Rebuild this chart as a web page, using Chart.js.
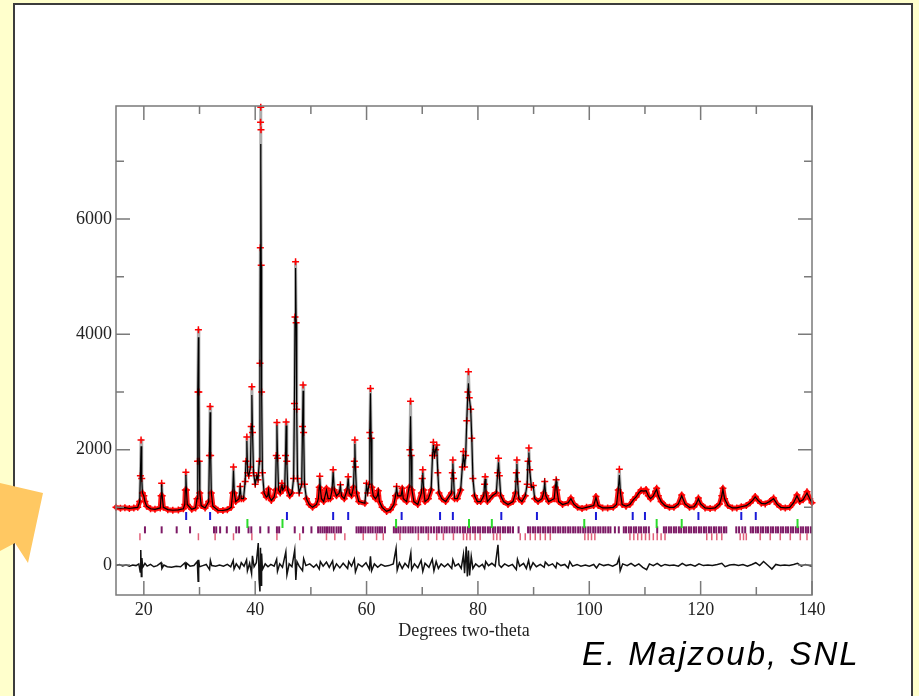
<!DOCTYPE html>
<html lang="en">
<head>
    <meta charset="UTF-8">
    <title>Rietveld refinement</title>
    <script src="https://cdn.jsdelivr.net/npm/chart.js"></script>
    <style>
        html, body { margin: 0; padding: 0; }
        body { width: 919px; height: 696px; background: #ffffcc; position: relative; overflow: hidden; }
        #slide {
            position: absolute; left: 13px; top: 3px; width: 900px; height: 760px;
            box-sizing: border-box; border: 2px solid #3c3c3c; background: #fff;
        }
        #myChart { position: absolute; left: 0; top: 0; }
        #arrow { position: absolute; left: 0; top: 0; }
        #credit {
            position: absolute; left: 582px; top: 637px;
            font-family: "Liberation Sans", Arial, sans-serif; font-style: italic;
            font-size: 33px; line-height: 1; letter-spacing: 2px; color: #000;
        }
    </style>
</head>
<body>
    <div id="slide"></div>
    <canvas id="myChart" width="919" height="696"></canvas>
    <svg id="arrow" width="919" height="696">
        <polygon points="0,483 43,493 28,563 15,543 0,551" fill="#ffc862"></polygon>
    </svg>
    <div id="credit">E. Majzoub, SNL</div>
    <script>
        // profile: 2-theta, observed and calculated intensity
        const twoTheta = [
            15.0, 15.8, 16.6, 17.4, 18.2, 18.9, 19.25, 19.38, 19.5, 19.62, 19.75, 20.0, 20.2, 20.5, 21.2, 22.0,
            22.95, 23.1, 23.2, 23.3, 23.5, 24.3, 25.2, 26.2, 27.1, 27.35, 27.45, 27.55, 27.65, 27.8, 28.6, 29.3,
            29.55, 29.65, 29.72, 29.8, 29.88, 29.95, 30.05, 30.3, 31.0, 31.65, 31.78, 31.9, 32.0, 32.12, 32.4, 33.3,
            34.2, 35.0, 35.7, 35.95, 36.1, 36.25, 36.5, 37.1, 37.3, 37.5, 37.9, 38.2, 38.35, 38.5, 38.65, 38.85,
            39.15, 39.28, 39.4, 39.52, 39.7, 40.0, 40.3, 40.5, 40.75, 40.85, 40.92, 40.96, 41.0, 41.04, 41.08, 41.15,
            41.3, 41.6, 42.0, 42.25, 42.4, 42.55, 42.9, 43.4, 43.65, 43.78, 43.9, 44.02, 44.2, 44.5, 44.7, 44.8,
            44.95, 45.3, 45.45, 45.55, 45.68, 45.85, 46.2, 46.6, 46.9, 47.05, 47.15, 47.25, 47.35, 47.45, 47.6, 47.9,
            48.35, 48.5, 48.6, 48.7, 48.85, 49.2, 49.7, 50.3, 51.0, 51.35, 51.5, 51.6, 51.72, 51.9, 52.3, 52.8,
            53.1, 53.5, 53.8, 54.0, 54.2, 54.6, 55.1, 55.3, 55.5, 56.0, 56.5, 56.7, 56.9, 57.3, 57.65, 57.8,
            57.9, 58.0, 58.2, 58.6, 59.7, 60.0, 60.2, 60.45, 60.58, 60.7, 60.82, 60.95, 61.2, 61.6, 61.95, 62.1,
            62.3, 62.8, 63.6, 64.3, 64.9, 65.2, 65.4, 65.6, 66.2, 66.4, 66.6, 67.2, 67.65, 67.78, 67.9, 68.02,
            68.15, 68.5, 69.2, 69.85, 70.0, 70.1, 70.25, 70.5, 71.1, 71.6, 71.85, 72.0, 72.2, 72.4, 72.6, 72.8,
            73.0, 73.5, 74.2, 75.25, 75.4, 75.5, 75.62, 75.8, 76.3, 76.9, 77.2, 77.4, 77.6, 77.8, 78.0, 78.2,
            78.3, 78.45, 78.7, 78.9, 79.1, 79.4, 79.9, 80.5, 81.05, 81.2, 81.3, 81.45, 81.7, 82.6, 83.3, 83.55,
            83.7, 83.85, 84.1, 84.6, 85.4, 86.3, 86.75, 86.9, 87.0, 87.12, 87.35, 87.9, 88.5, 88.85, 89.0, 89.15,
            89.3, 89.6, 89.95, 90.2, 90.8, 91.5, 91.8, 92.0, 92.2, 92.7, 93.7, 93.9, 94.05, 94.2, 94.5, 95.2,
            96.2, 96.7, 97.2, 97.9, 98.7, 99.5, 100.8, 101.2, 101.6, 102.4, 103.3, 104.3, 104.9, 105.2, 105.4, 105.6,
            105.9, 106.6, 107.3, 107.9, 108.4, 108.9, 109.3, 109.8, 110.2, 110.6, 111.0, 111.5, 111.9, 112.1, 112.4, 112.9,
            113.6, 114.4, 115.2, 116.0, 116.6, 117.2, 118.0, 118.8, 119.2, 119.6, 120.0, 120.8, 121.7, 122.6, 123.4, 123.8,
            124.0, 124.3, 124.9, 125.7, 126.5, 127.3, 128.2, 128.9, 129.4, 129.8, 130.3, 130.9, 131.6, 132.4, 133.1, 133.7,
            134.4, 135.2, 136.0, 136.7, 137.3, 137.8, 138.4, 139.1, 139.6, 140.0
        ];
        const intensityObs = [
            1000, 985, 995, 980, 990, 1000, 1100, 1550, 2170, 1500, 1250, 1200, 1100, 1020, 975, 965,
            990, 1200, 1420, 1200, 1000, 960, 950, 955, 975, 1050, 1300, 1610, 1300, 1050, 965, 990,
            1150, 1800, 3000, 4080, 3000, 1800, 1250, 1030, 990, 1100, 1900, 2750, 1900, 1250, 1020, 950,
            945, 960, 1000, 1250, 1700, 1250, 1100, 1150, 1360, 1150, 1150, 1450, 1800, 2220, 1600, 1550,
            1700, 2400, 3090, 2300, 1600, 1400, 1550, 1480, 1800, 3500, 5500, 7680, 7940, 7550, 5200, 3000,
            1600, 1250, 1180, 1200, 1320, 1180, 1120, 1180, 1300, 1900, 2470, 1850, 1300, 1250, 1350, 1420,
            1300, 1350, 1900, 2480, 1800, 1300, 1200, 1250, 1500, 2800, 4300, 5260, 4200, 2700, 1500, 1250,
            1400, 2400, 3120, 2300, 1400, 1150, 1050, 1000, 1050, 1150, 1350, 1540, 1300, 1150, 1100, 1330,
            1150, 1150, 1300, 1650, 1300, 1200, 1250, 1390, 1200, 1150, 1300, 1530, 1250, 1200, 1350, 1800,
            2170, 1700, 1250, 1100, 1070, 1420, 1250, 1400, 2300, 3060, 2200, 1350, 1200, 1150, 1200, 1290,
            1100, 1000, 930, 960, 1050, 1200, 1360, 1200, 1200, 1330, 1150, 1100, 1350, 2000, 2840, 1900,
            1300, 1100, 1050, 1250, 1500, 1650, 1300, 1100, 1150, 1300, 1900, 2130, 1900, 2000, 2080, 1600,
            1250, 1150, 1100, 1250, 1600, 1820, 1500, 1150, 1150, 1300, 1700, 1970, 1700, 1900, 2500, 3000,
            3350, 2900, 2700, 2200, 1500, 1200, 1100, 1100, 1200, 1400, 1530, 1250, 1100, 1200, 1250, 1600,
            1850, 1550, 1200, 1100, 1050, 1100, 1250, 1600, 1820, 1450, 1150, 1100, 1200, 1400, 1800, 2030,
            1650, 1350, 1380, 1150, 1100, 1150, 1250, 1450, 1200, 1100, 1150, 1350, 1480, 1300, 1100, 1050,
            1080, 1160, 1060, 1000, 980, 1000, 1030, 1190, 1030, 990, 990, 1000, 1050, 1300, 1660, 1250,
            1050, 1020, 1050, 1130, 1180, 1250, 1300, 1280, 1310, 1200, 1150, 1200, 1280, 1330, 1200, 1100,
            1030, 1000, 1000, 1060, 1215, 1060, 1000, 1010, 1060, 1160, 1060, 990, 980, 990, 1060, 1200,
            1330, 1150, 1030, 990, 990, 1010, 1030, 1080, 1130, 1190, 1120, 1070, 1060, 1100, 1160, 1060,
            1000, 990, 1000, 1080, 1215, 1100, 1130, 1270, 1150, 1080
        ];
        const intensityCalc = [
            1000, 985, 995, 980, 990, 1000, 1100, 1550, 2060, 1500, 1250, 1200, 1100, 1020, 975, 965,
            990, 1200, 1400, 1200, 1000, 960, 950, 955, 975, 1050, 1300, 1560, 1300, 1050, 965, 990,
            1150, 1800, 3000, 3950, 3000, 1800, 1250, 1030, 990, 1100, 1900, 2650, 1900, 1250, 1020, 950,
            945, 960, 1000, 1250, 1640, 1250, 1100, 1150, 1340, 1150, 1150, 1450, 1800, 2150, 1600, 1550,
            1700, 2400, 2950, 2300, 1600, 1400, 1550, 1480, 1800, 3500, 5500, 7000, 7300, 7000, 5200, 3000,
            1600, 1250, 1180, 1200, 1300, 1180, 1120, 1180, 1300, 1900, 2420, 1850, 1300, 1250, 1350, 1400,
            1300, 1350, 1900, 2420, 1800, 1300, 1200, 1250, 1500, 2800, 4300, 5150, 4200, 2700, 1500, 1250,
            1400, 2400, 3020, 2300, 1400, 1150, 1050, 1000, 1050, 1150, 1350, 1500, 1300, 1150, 1100, 1300,
            1150, 1150, 1300, 1610, 1300, 1200, 1250, 1370, 1200, 1150, 1300, 1500, 1250, 1200, 1350, 1800,
            2100, 1700, 1250, 1100, 1070, 1380, 1250, 1400, 2300, 2980, 2200, 1350, 1200, 1150, 1200, 1280,
            1100, 1000, 930, 960, 1050, 1200, 1330, 1200, 1200, 1310, 1150, 1100, 1350, 2000, 2580, 1900,
            1300, 1100, 1050, 1250, 1500, 1600, 1300, 1100, 1150, 1300, 1900, 2080, 1900, 2000, 2040, 1600,
            1250, 1150, 1100, 1250, 1600, 1760, 1500, 1150, 1150, 1300, 1700, 1920, 1700, 1900, 2500, 3000,
            3150, 2900, 2700, 2200, 1500, 1200, 1100, 1100, 1200, 1400, 1490, 1250, 1100, 1200, 1250, 1600,
            1780, 1550, 1200, 1100, 1050, 1100, 1250, 1600, 1750, 1450, 1150, 1100, 1200, 1400, 1800, 1950,
            1650, 1350, 1360, 1150, 1100, 1150, 1250, 1420, 1200, 1100, 1150, 1350, 1450, 1300, 1100, 1050,
            1080, 1150, 1060, 1000, 980, 1000, 1030, 1170, 1030, 990, 990, 1000, 1050, 1300, 1560, 1250,
            1050, 1020, 1050, 1130, 1180, 1250, 1290, 1280, 1290, 1200, 1150, 1200, 1280, 1310, 1200, 1100,
            1030, 1000, 1000, 1060, 1200, 1060, 1000, 1010, 1060, 1150, 1060, 990, 980, 990, 1060, 1200,
            1310, 1150, 1030, 990, 990, 1010, 1030, 1080, 1130, 1180, 1120, 1070, 1060, 1100, 1150, 1060,
            1000, 990, 1000, 1080, 1200, 1100, 1130, 1250, 1150, 1080
        ];

        // difference curve (obs - calc)
        const diffTheta = [
            15.0, 15.6, 16.2, 16.8, 17.4, 18.0, 18.6, 19.1, 19.35, 19.45,
            19.55, 19.65, 19.8, 20.2, 20.6, 21.2, 21.8, 22.4, 23.1, 23.25,
            23.6, 24.2, 25.0, 25.8, 26.6, 27.4, 27.55, 27.7, 28.3, 29.0,
            29.6, 29.75, 29.85, 30.0, 30.6, 31.2, 31.8, 31.95, 32.2, 32.9,
            33.6, 34.3, 35.0, 35.6, 36.05, 36.2, 36.6, 37.2, 37.5, 38.0,
            38.45, 38.6, 39.0, 39.35, 39.5, 39.8, 40.2, 40.55, 40.7, 40.85,
            40.95, 41.05, 41.15, 41.3, 41.8, 42.3, 42.8, 43.4, 43.85, 44.0,
            44.4, 44.9, 45.5, 45.7, 46.1, 46.6, 47.1, 47.3, 47.5, 47.9,
            48.5, 48.7, 49.1, 49.8, 50.5, 51.0, 51.5, 51.7, 52.2, 52.8,
            53.3, 53.9, 54.1, 54.6, 55.2, 55.8, 56.6, 56.8, 57.3, 57.8,
            58.0, 58.5, 59.2, 59.9, 60.5, 60.7, 60.9, 61.4, 62.0, 62.6,
            63.3, 64.0, 64.8, 65.3, 65.5, 65.9, 66.4, 66.9, 67.5, 67.95,
            68.1, 68.6, 69.2, 69.8, 70.1, 70.5, 71.2, 71.8, 72.1, 72.5,
            72.9, 73.4, 74.0, 74.6, 75.3, 75.5, 75.9, 76.5, 77.0, 77.4,
            77.6, 77.9, 78.1, 78.3, 78.5, 78.8, 79.1, 79.6, 80.2, 80.8,
            81.2, 81.4, 81.9, 82.5, 83.1, 83.6, 83.8, 84.2, 84.8, 85.5,
            86.2, 86.9, 87.1, 87.5, 88.2, 88.7, 89.1, 89.4, 89.9, 90.5,
            91.2, 91.9, 92.1, 92.7, 93.4, 94.0, 94.2, 94.9, 95.6, 96.2,
            96.5, 97.0, 97.8, 98.5, 99.3, 100.0, 100.8, 101.3, 101.8, 102.6,
            103.4, 104.2, 105.0, 105.35, 105.55, 106.0, 106.8, 107.5, 108.2, 108.9,
            109.6, 110.3, 110.8, 111.5, 112.2, 112.9, 113.6, 114.4, 115.2, 116.0,
            116.7, 117.4, 118.2, 119.0, 119.7, 120.5, 121.3, 122.1, 123.0, 123.8,
            124.4, 125.2, 126.0, 126.8, 127.6, 128.4, 129.2, 129.9, 130.6, 131.3,
            132.0, 132.8, 133.5, 134.3, 135.1, 135.9, 136.7, 137.4, 138.1, 138.8,
            139.5, 140.0
        ];
        const diffValues = [
            -10, 10, -15, 5, -20, 0, -10, 20, -120, 260,
            -200, 120, -40, 30, -20, 10, -30, -10, 40, -60,
            0, -30, -40, -20, -30, 40, -70, 30, -20, -10,
            60, -280, 90, -30, -10, 10, -80, 80, -10, -20,
            0, -20, 10, -30, 80, -70, 20, -60, 40, -20,
            90, -100, 30, -150, 160, -30, 40, 380, -250, -460,
            300, -350, 200, -80, 20, -30, 10, -20, 100, -110,
            20, -40, 230, -170, 20, -30, 260, -260, 60, -20,
            -100, 110, -10, 20, -40, 10, -70, 60, -20, 50,
            -40, 70, -80, 20, -50, 30, -60, 60, -20, 100,
            -120, 20, -30, 40, -70, 150, -100, 20, -40, 10,
            -20, -10, 20, 290, -90, 40, -60, 30, -40, 210,
            -80, 20, -50, 80, -110, 30, -40, 100, -100, 60,
            -60, 20, -30, 20, -60, 90, -20, 20, -60, 180,
            -140, 320, -200, 250, -180, 150, -60, 20, -30, 10,
            -60, 60, -10, 30, -20, 350, 0, -40, 20, -20,
            10, -80, 100, -20, 30, -60, 80, -70, 40, -30,
            10, -40, 50, -10, 20, -50, 40, -10, 10, -50,
            60, -20, 10, -20, 0, -20, 10, -50, 20, -10,
            10, -20, 20, 120, -100, 20, -10, 30, -20, 20,
            -40, -80, 20, -10, 30, -20, 10, -10, 0, -20,
            30, -10, 10, -20, 20, -10, 0, -10, 10, 30,
            -30, 0, 10, -10, 10, -20, 10, 40, -10, 60,
            0, -70, 10, -10, 0, -10, 10, 30, -20, 10,
            -10, -20
        ];

        // reflection positions for each phase
        const reflBlue = [27.6, 31.9, 45.7, 54.0, 56.7, 66.3, 73.2, 75.5, 84.2, 90.6, 101.2, 107.8, 110.0, 119.6, 127.3, 129.9];
        const reflGreen = [38.6, 44.9, 65.3, 78.4, 82.5, 99.1, 112.1, 116.6, 137.4];
        const reflPurple = [
            20.2, 23.2, 25.9, 28.3, 32.6, 33.0, 33.7, 34.9, 36.6, 37.1, 38.8, 39.3, 40.9, 42.4, 43.9, 44.3, 47.1, 48.6, 50.1,
            51.3, 51.7, 52.1, 52.5, 52.9, 53.3, 53.7, 54.1, 54.6, 55.0, 55.4,
            58.2, 58.6, 59.0, 59.4, 59.8, 60.3, 60.7, 61.1, 61.6, 62.0, 62.4, 62.8, 63.3,
            64.9, 65.3, 65.7, 66.1, 66.6, 67.0, 67.5, 67.9, 68.3, 68.8, 69.3, 69.8, 70.2, 70.7, 71.1, 71.6,
            72.1, 72.6, 73.0, 73.5, 74.0, 74.4, 74.9, 75.4, 75.8, 76.3, 76.8,
            77.3, 77.7, 78.2, 78.6, 79.1, 79.5, 80.0, 80.4, 80.9, 81.3, 81.8, 82.2, 82.7, 83.1, 83.6, 84.0,
            84.5, 84.9, 85.4, 85.8, 86.3, 87.3,
            89.0, 89.4, 89.9, 90.3, 90.8, 91.2, 91.7, 92.1, 92.6, 93.0, 93.5, 93.9, 94.4, 94.8, 95.3, 95.7,
            96.2, 96.6, 97.1, 97.5, 98.0, 98.4, 98.9, 99.3, 99.8, 100.2, 100.7, 101.1, 101.6, 102.0, 102.5,
            102.9, 103.4, 103.8, 104.6, 105.3,
            106.2, 106.6, 107.1, 107.5, 108.0, 108.4, 108.9, 109.3, 109.8, 110.2, 110.7, 112.2,
            113.4, 113.8, 114.3, 114.7, 115.2, 115.6, 116.1, 116.5, 117.0, 117.4, 117.9, 118.3, 118.8, 119.2,
            119.7, 120.1, 120.6, 121.0, 121.5, 121.9, 122.4, 122.8, 123.3, 123.7, 124.2, 124.6,
            126.4, 126.9, 127.5, 128.0,
            129.0, 129.4, 129.9, 130.3, 130.8, 131.2, 131.7, 132.1, 132.6, 133.0, 133.5, 133.9, 134.4, 134.8,
            135.3, 135.7, 136.2, 136.6, 137.1, 137.5, 138.0, 138.4, 138.9, 139.3, 139.8
        ];
        const reflPink = [
            19.3, 29.8, 32.8, 36.1, 39.4, 43.9, 48.0, 52.8, 54.3, 56.1, 59.4, 61.8, 63.0, 66.0, 69.3, 71.1,
            72.6, 73.8, 75.6, 77.4, 78.0, 78.6, 79.5, 80.4, 82.8, 83.4, 84.0, 87.6, 88.5, 89.4, 90.3, 91.2,
            92.1, 93.0, 99.2, 99.8, 100.4, 101.0, 107.3, 108.0, 108.7, 109.4, 110.1, 110.8, 111.5, 112.2,
            112.9, 113.6, 121.1, 122.0, 122.9, 123.8, 127.1, 127.7, 128.2, 130.7, 132.5, 134.3, 136.1, 137.9, 139.1
        ];

        // axis ticks
        const xTickLabels = [20, 40, 60, 80, 100, 120, 140];
        const xMinorTicks = [30, 50, 70, 90, 110, 130];
        const yTickLabels = [0, 2000, 4000, 6000];
        const yMinorTicks = [1000, 3000, 5000, 7000];

        const serif = { family: '"Liberation Serif", "Times New Roman", serif', size: 18 };
        const PEAK_LEVEL = 1350;

        const pts = (xs, ys) => xs.map((v, i) => ({ x: v, y: ys[i] }));
        const row = (xs, level) => xs.map(v => ({ x: v, y: level }));
        const segHigh = c => Math.max(c.p0.parsed.y, c.p1.parsed.y) > PEAK_LEVEL;

        // inward tick marks and frame, like the original plotting program
        const frameTicks = {
            id: 'frameTicks',
            afterDatasetsDraw(chart) {
                const { ctx, chartArea: a, scales: { x, y } } = chart;
                ctx.save();
                ctx.strokeStyle = '#7a7a7a';
                ctx.lineWidth = 1.5;
                ctx.strokeRect(a.left, a.top, a.right - a.left, a.bottom - a.top);
                ctx.beginPath();
                const xt = (v, len) => {
                    const p = x.getPixelForValue(v);
                    ctx.moveTo(p, a.bottom); ctx.lineTo(p, a.bottom - len);
                    ctx.moveTo(p, a.top); ctx.lineTo(p, a.top + len);
                };
                const yt = (v, len) => {
                    const p = y.getPixelForValue(v);
                    ctx.moveTo(a.left, p); ctx.lineTo(a.left + len, p);
                    ctx.moveTo(a.right, p); ctx.lineTo(a.right - len, p);
                };
                xTickLabels.forEach(v => xt(v, 14));
                xMinorTicks.forEach(v => xt(v, 8));
                yTickLabels.forEach(v => yt(v, 14));
                yMinorTicks.forEach(v => yt(v, 8));
                ctx.stroke();
                ctx.restore();
            }
        };

        const ctx = document.getElementById('myChart').getContext('2d');
        const myChart = new Chart(ctx, {
            type: 'scatter',
            data: {
                datasets: [
                    {
                        label: 'Calculated',
                        data: pts(twoTheta, intensityCalc),
                        showLine: true,
                        borderColor: '#000',
                        borderWidth: 1.2,
                        pointRadius: 0,
                        order: 0
                    },
                    {
                        label: 'Observed',
                        data: pts(twoTheta, intensityObs),
                        showLine: true,
                        borderColor: '#ff0000',
                        borderWidth: 5,
                        borderJoinStyle: 'round',
                        borderCapStyle: 'round',
                        segment: {
                            borderColor: c => segHigh(c) ? 'rgba(70,70,70,0.45)' : '#ff1a1a',
                            borderWidth: c => segHigh(c) ? 3 : 5
                        },
                        pointStyle: 'cross',
                        pointRadius: 3.5,
                        pointBorderWidth: 1.5,
                        pointBorderColor: '#ff0000',
                        pointBackgroundColor: '#ff0000',
                        clip: false,
                        order: 1
                    },
                    {
                        label: 'Difference',
                        data: pts(diffTheta, diffValues),
                        showLine: true,
                        borderColor: '#111',
                        borderWidth: 1.5,
                        pointRadius: 0,
                        order: 2
                    },
                    {
                        label: 'Phase 1',
                        data: row(reflBlue, 850),
                        pointStyle: 'line', rotation: 90, pointRadius: 4,
                        pointBorderWidth: 2, pointBorderColor: '#1a1ad8',
                        order: 3
                    },
                    {
                        label: 'Phase 2',
                        data: row(reflGreen, 720),
                        pointStyle: 'line', rotation: 90, pointRadius: 4.5,
                        pointBorderWidth: 2, pointBorderColor: '#2bdc2b',
                        order: 3
                    },
                    {
                        label: 'Phase 3',
                        data: row(reflPurple, 610),
                        pointStyle: 'line', rotation: 90, pointRadius: 3.5,
                        pointBorderWidth: 2, pointBorderColor: '#7d1a66',
                        order: 3
                    },
                    {
                        label: 'Phase 4',
                        data: row(reflPink, 490),
                        pointStyle: 'line', rotation: 90, pointRadius: 3.5,
                        pointBorderWidth: 1.5, pointBorderColor: '#e2607a',
                        order: 3
                    }
                ]
            },
            options: {
                responsive: false,
                animation: false,
                events: [],
                layout: { padding: { top: 106, right: 107, bottom: 41, left: 0 } },
                plugins: {
                    legend: { display: false },
                    tooltip: { enabled: false }
                },
                scales: {
                    x: {
                        type: 'linear',
                        min: 15,
                        max: 140,
                        grid: { display: false, drawTicks: false },
                        border: { display: false },
                        afterBuildTicks: s => { s.ticks = xTickLabels.map(v => ({ value: v })); },
                        afterFit: s => { s.height = 60; },
                        ticks: { font: serif, color: '#222', padding: 4, maxRotation: 0, autoSkip: false },
                        title: {
                            display: true,
                            text: 'Degrees two-theta',
                            font: serif,
                            color: '#222',
                            padding: { top: 0, bottom: 13 }
                        }
                    },
                    y: {
                        type: 'linear',
                        min: -520,
                        max: 7960,
                        grid: { display: false, drawTicks: false },
                        border: { display: false },
                        afterBuildTicks: s => { s.ticks = yTickLabels.map(v => ({ value: v })); },
                        afterFit: s => { s.width = 116; },
                        ticks: { font: serif, color: '#222', padding: 4, callback: v => String(v) }
                    }
                }
            },
            plugins: [frameTicks]
        });
    </script>
</body>
</html>
